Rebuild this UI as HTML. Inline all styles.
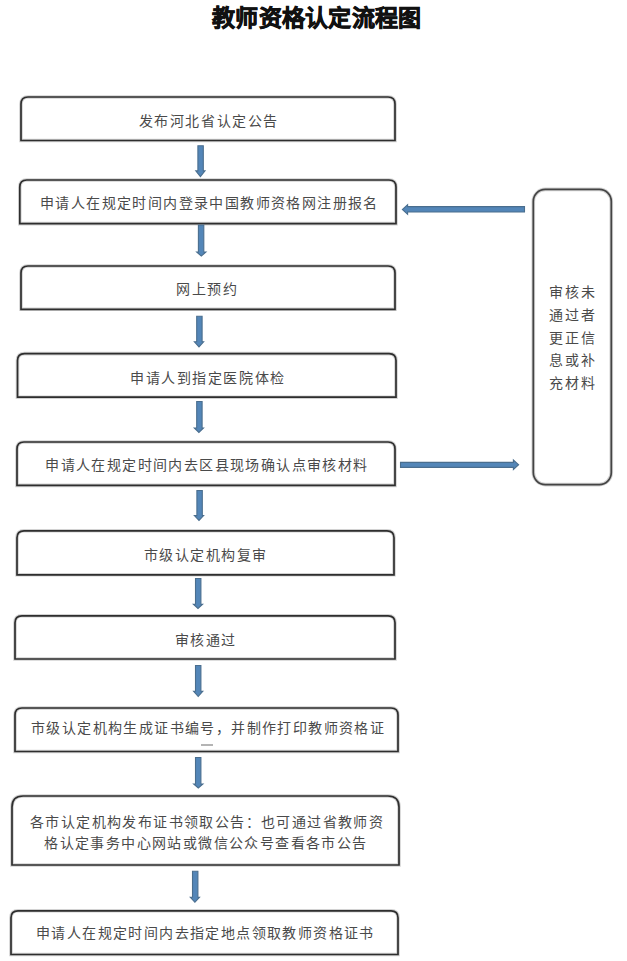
<!DOCTYPE html>
<html lang="zh-CN"><head><meta charset="utf-8"><title>教师资格认定流程图</title>
<style>
html,body{margin:0;padding:0;background:#fff;}
body{width:627px;height:961px;position:relative;overflow:hidden;}
svg{position:absolute;left:0;top:0;}
.bx{fill:none;stroke:#2e2e2e;stroke-width:1.7;}
.bh{fill:none;stroke:#d2d2d2;stroke-width:3.6;}
.ar{fill:#5386b8;stroke:#4a6e8e;stroke-width:1.1;}
.t{position:absolute;white-space:nowrap;font-family:"Liberation Serif",serif;font-size:14px;line-height:20px;letter-spacing:1.4px;color:#4a4a4a;}
.title{position:absolute;left:0;width:627px;top:3px;text-align:center;font-family:"Liberation Sans",sans-serif;font-weight:bold;font-size:23px;line-height:30px;color:#111;-webkit-text-stroke:0.7px #111;white-space:nowrap;}
.clip{position:absolute;overflow:hidden;}
</style></head><body>
<div class="title" style="left:212px;width:auto;text-align:left;letter-spacing:0.3px">教师资格认定流程图</div>
<svg width="627" height="961" viewBox="0 0 627 961">
<path d="M21,140.5 L21,103.96 Q21,97 27.96,97 L388.04,97 Q395,97 395,103.96 L395,140.5 Z" class="bh"/>
<path d="M19.8,223.6 L19.8,186.98 Q19.8,180 26.78,180 L389.02,180 Q396,180 396,186.98 L396,223.6 Z" class="bh"/>
<path d="M21,309.3 L21,272.93 Q21,266 27.93,266 L388.07,266 Q395,266 395,272.93 L395,309.3 Z" class="bh"/>
<path d="M17.5,397.2 L17.5,360.58000000000004 Q17.5,353.6 24.48,353.6 L389.02,353.6 Q396,353.6 396,360.58000000000004 L396,397.2 Z" class="bh"/>
<path d="M17,485.4 L17,448.94 Q17,442 23.94,442 L388.06,442 Q395,442 395,448.94 L395,485.4 Z" class="bh"/>
<path d="M17,574.8 L17,537.8399999999999 Q17,530.8 24.04,530.8 L386.96,530.8 Q394,530.8 394,537.8399999999999 L394,574.8 Z" class="bh"/>
<path d="M15,659 L15,622.7099999999999 Q15,615.8 21.91,615.8 L388.09,615.8 Q395,615.8 395,622.7099999999999 L395,659 Z" class="bh"/>
<path d="M15,751.5 L15,714.96 Q15,708 21.96,708 L391.04,708 Q398,708 398,714.96 L398,751.5 Z" class="bh"/>
<path d="M12,865 L12,807.04 Q12,796 23.04,796 L387.96,796 Q399,796 399,807.04 L399,865 Z" class="bh"/>
<path d="M11,954.5 L11,917.79 Q11,910.8 17.990000000000002,910.8 L391.01,910.8 Q398,910.8 398,917.79 L398,954.5 Z" class="bh"/>
<rect x="533.3" y="189.4" width="78" height="295.2" rx="12" ry="12" class="bh" style=""/>
<path d="M21,140.5 L21,103.96 Q21,97 27.96,97 L388.04,97 Q395,97 395,103.96 L395,140.5 Z" class="bx"/>
<path d="M19.8,223.6 L19.8,186.98 Q19.8,180 26.78,180 L389.02,180 Q396,180 396,186.98 L396,223.6 Z" class="bx"/>
<path d="M21,309.3 L21,272.93 Q21,266 27.93,266 L388.07,266 Q395,266 395,272.93 L395,309.3 Z" class="bx"/>
<path d="M17.5,397.2 L17.5,360.58000000000004 Q17.5,353.6 24.48,353.6 L389.02,353.6 Q396,353.6 396,360.58000000000004 L396,397.2 Z" class="bx"/>
<path d="M17,485.4 L17,448.94 Q17,442 23.94,442 L388.06,442 Q395,442 395,448.94 L395,485.4 Z" class="bx"/>
<path d="M17,574.8 L17,537.8399999999999 Q17,530.8 24.04,530.8 L386.96,530.8 Q394,530.8 394,537.8399999999999 L394,574.8 Z" class="bx"/>
<path d="M15,659 L15,622.7099999999999 Q15,615.8 21.91,615.8 L388.09,615.8 Q395,615.8 395,622.7099999999999 L395,659 Z" class="bx"/>
<path d="M15,751.5 L15,714.96 Q15,708 21.96,708 L391.04,708 Q398,708 398,714.96 L398,751.5 Z" class="bx"/>
<path d="M12,865 L12,807.04 Q12,796 23.04,796 L387.96,796 Q399,796 399,807.04 L399,865 Z" class="bx"/>
<path d="M11,954.5 L11,917.79 Q11,910.8 17.990000000000002,910.8 L391.01,910.8 Q398,910.8 398,917.79 L398,954.5 Z" class="bx"/>
<rect x="533.3" y="189.4" width="78" height="295.2" rx="12" ry="12" class="bx" style="stroke:#444"/>
<path d="M197.90,145.70 L203.30,145.70 L203.30,170.90 L205.00,170.90 L200.40,176.60 L195.80,170.90 L197.90,170.90 Z" class="ar"/>
<path d="M198.40,225.00 L203.80,225.00 L203.80,252.00 L205.90,252.00 L201.30,256.10 L196.70,252.00 L198.40,252.00 Z" class="ar"/>
<path d="M196.70,316.30 L202.10,316.30 L202.10,341.80 L203.60,341.80 L199.00,346.90 L194.40,341.80 L196.70,341.80 Z" class="ar"/>
<path d="M196.70,401.50 L202.10,401.50 L202.10,428.00 L203.50,428.00 L198.90,432.50 L194.30,428.00 L196.70,428.00 Z" class="ar"/>
<path d="M196.90,490.50 L202.30,490.50 L202.30,515.60 L203.60,515.60 L199.00,520.50 L194.40,515.60 L196.90,515.60 Z" class="ar"/>
<path d="M195.50,578.50 L200.90,578.50 L200.90,604.20 L202.60,604.20 L198.00,608.50 L193.40,604.20 L195.50,604.20 Z" class="ar"/>
<path d="M195.50,665.50 L200.90,665.50 L200.90,691.20 L202.80,691.20 L198.20,696.50 L193.60,691.20 L195.50,691.20 Z" class="ar"/>
<path d="M195.50,757.50 L200.90,757.50 L200.90,784.00 L202.90,784.00 L198.30,788.00 L193.70,784.00 L195.50,784.00 Z" class="ar"/>
<path d="M192.50,871.30 L197.90,871.30 L197.90,897.20 L199.50,897.20 L194.90,902.30 L190.30,897.20 L192.50,897.20 Z" class="ar"/>
<path d="M524.5,206.60000000000002 L407.6,206.60000000000002 L407.6,204.7 L402.4,209.5 L407.6,214.3 L407.6,212.0 L524.5,212.0 Z" class="ar"/>
<path d="M400.5,462.4 L513.4,462.4 L513.4,460.0 L518.6,464.7 L513.4,469.4 L513.4,467.4 L400.5,467.4 Z" class="ar"/>
</svg>
<div class="t" style="left:138.8px;top:111.8px;letter-spacing:1.55px">发布河北省认定公告</div>
<div class="t" style="left:40.0px;top:194.0px">申请人在规定时间内登录中国教师资格网注册报名</div>
<div class="t" style="left:176.4px;top:280.2px;letter-spacing:1.55px">网上预约</div>
<div class="t" style="left:130.2px;top:369.0px;letter-spacing:1.55px">申请人到指定医院体检</div>
<div class="t" style="left:45.2px;top:455.9px">申请人在规定时间内去区县现场确认点审核材料</div>
<div class="t" style="left:143.5px;top:545.5px;letter-spacing:1.55px">市级认定机构复审</div>
<div class="t" style="left:174.8px;top:630.8px;letter-spacing:1.55px">审核通过</div>
<div class="t" style="left:31.0px;top:718.8px">市级认定机构生成证书编号，并制作打印教师资格证</div>
<div class="t" style="left:30.0px;top:812.7px">各市认定机构发布证书领取公告：也可通过省教师资</div>
<div class="t" style="left:44.3px;top:833.9px">格认定事务中心网站或微信公众号查看各市公告</div>
<div class="t" style="left:36.0px;top:924.3px">申请人在规定时间内去指定地点领取教师资格证书</div>
<div class="t" style="left:548.7px;top:282.9px;letter-spacing:2.0px">审核未</div>
<div class="t" style="left:548.7px;top:306.2px;letter-spacing:2.0px">通过者</div>
<div class="t" style="left:548.7px;top:328.6px;letter-spacing:2.0px">更正信</div>
<div class="t" style="left:548.7px;top:351.4px;letter-spacing:2.0px">息或补</div>
<div class="t" style="left:548.7px;top:373.8px;letter-spacing:2.0px">充材料</div>
<div style="position:absolute;left:201px;top:744.3px;width:12px;height:1.5px;background:#b4b4b4"></div>
</body></html>
